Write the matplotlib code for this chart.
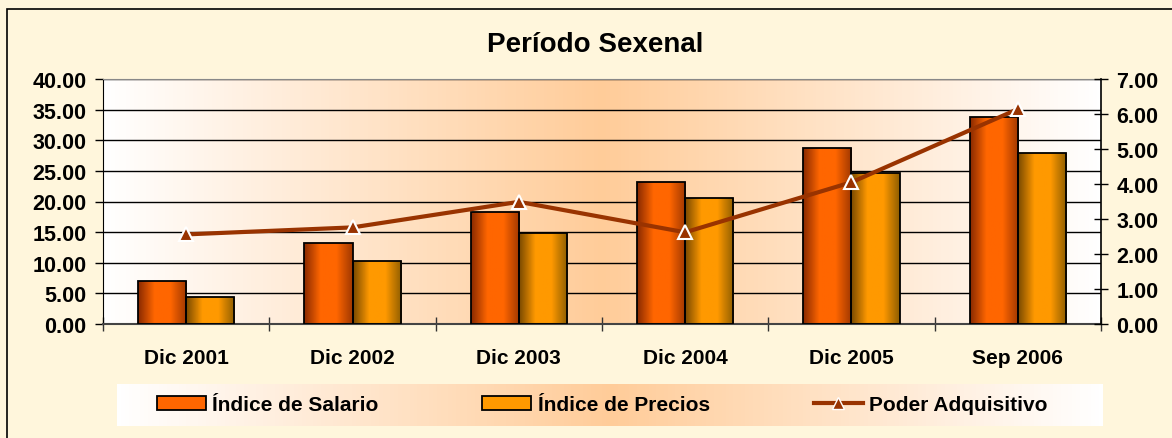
import numpy as np
import matplotlib.pyplot as plt
from matplotlib.colors import LinearSegmentedColormap
from matplotlib.patches import Rectangle
from matplotlib.lines import Line2D

# data
periodos = ["Dic 2001", "Dic 2002", "Dic 2003", "Dic 2004", "Dic 2005", "Sep 2006"]
indice_salario = [7.07, 13.28, 18.23, 23.18, 28.79, 33.74]
indice_precios = [4.46, 10.34, 14.80, 20.57, 24.70, 27.87]
poder_adquisitivo = [2.56, 2.76, 3.49, 2.62, 4.05, 6.14]

plt.rcParams['font.family'] = ['Liberation Sans', 'DejaVu Sans']
plt.rcParams['font.weight'] = 'bold'

fig = plt.figure(figsize=(11.72, 4.39), dpi=100)
fig.patch.set_facecolor('#FFF6DC')

# outer border of the chart
fig.add_artist(Rectangle((7 / 1172, -0.05), 1.2, 1 - 10 / 439 + 0.05,
                         transform=fig.transFigure, fill=False,
                         edgecolor='black', linewidth=1.2))

ax = fig.add_axes([103 / 1172, 1 - 325 / 439, (1101 - 103) / 1172, 245 / 439])
ax.patch.set_visible(False)

# plot area background: white -> peach -> white
bg_cmap = LinearSegmentedColormap.from_list('bg', ['#FFFFFF', '#FFCC99', '#FFFFFF'])
ax.imshow(np.linspace(0, 1, 256).reshape(1, -1), cmap=bg_cmap, aspect='auto',
          extent=[0, 1, 0, 1], transform=ax.transAxes, zorder=0)

x = np.arange(len(periodos))
w = 0.29
bars_s = ax.bar(x - w / 2, indice_salario, w, edgecolor='black', linewidth=1.3, zorder=3)
bars_p = ax.bar(x + w / 2, indice_precios, w, edgecolor='black', linewidth=1.3, zorder=3)

sal_cmap = LinearSegmentedColormap.from_list('sal', ['#8A2A00', '#FF6600', '#FF6600', '#A03800'])
pre_cmap = LinearSegmentedColormap.from_list('pre', ['#7A4A00', '#FF9900', '#FF9900', '#8F5E00'])


def gradient_fill(bars, cmap):
    for b in bars:
        bx, by = b.get_xy()
        im = ax.imshow(np.linspace(0, 1, 64).reshape(1, -1), cmap=cmap, aspect='auto',
                       extent=[bx, bx + b.get_width(), by, by + b.get_height()], zorder=2.5)
        im.set_clip_path(b)
        b.set_facecolor('none')


gradient_fill(bars_s, sal_cmap)
gradient_fill(bars_p, pre_cmap)

ax.set_xlim(-0.5, len(periodos) - 0.5)
ax.set_ylim(0, 40)
ax.set_yticks(np.arange(0, 41, 5))
ax.set_yticklabels([f"{v:.2f}" for v in np.arange(0, 41, 5)])
ax.yaxis.grid(True, color='black', linewidth=1.0, zorder=1)
ax.set_axisbelow(True)
ax.set_xticks(np.arange(-0.5, len(periodos), 1))
ax.set_xticklabels([])
ax.set_xticks(x, minor=True)
ax.set_xticklabels(periodos, minor=True)
ax.tick_params(axis='x', which='major', direction='inout', length=10, width=1, color='#333333')
ax.tick_params(axis='x', which='minor', length=0, pad=17, labelsize=15)
ax.tick_params(axis='y', direction='out', length=6, width=1, labelsize=15.5, pad=6)
ax.spines['top'].set_color('#888888')
ax.spines['right'].set_visible(False)
ax.spines['bottom'].set_color('#444444')
ax.spines['bottom'].set_linewidth(1.5)

ax2 = ax.twinx()
ax2.plot(x, poder_adquisitivo, color='#993300', linewidth=3, marker='^', markersize=10,
         markerfacecolor='#993300', markeredgecolor='white', markeredgewidth=1.5, zorder=5)
ax2.set_ylim(0, 7)
ax2.set_yticks(np.arange(0, 8, 1))
ax2.set_yticklabels([f"{v:.2f}" for v in np.arange(0, 8, 1)])
ax2.tick_params(axis='y', direction='inout', length=10, width=1, labelsize=15.5, pad=6)
for s in ['top', 'left', 'bottom']:
    ax2.spines[s].set_visible(False)
ax2.spines['right'].set_linewidth(1.2)

ax.set_title("Período Sexenal", fontsize=20, fontweight='bold', pad=20, x=0.493)

# legend band
lax = fig.add_axes([117 / 1172, 1 - 427 / 439, (1103 - 117) / 1172, 42 / 439])
lax.imshow(np.linspace(0, 1, 256).reshape(1, -1), cmap=bg_cmap, aspect='auto', extent=[0, 1, 0, 1])
lax.axis('off')

handles = [Rectangle((0, 0), 1, 1, facecolor='#FF6600', edgecolor='black', linewidth=1.3),
           Rectangle((0, 0), 1, 1, facecolor='#FF9900', edgecolor='black', linewidth=1.3),
           Line2D([], [], color='#993300', linewidth=3, marker='^', markersize=8,
                  markerfacecolor='#993300', markeredgecolor='white')]
labels = ["Índice de Salario", "Índice de Precios", "Poder Adquisitivo"]
lax.legend(handles, labels, loc='center', ncol=3, frameon=False, fontsize=15,
           columnspacing=5.0, handlelength=2.35, handleheight=0.65, handletextpad=0.3,
           bbox_to_anchor=(0.492, 0.5))

fig.savefig("out.png", dpi=100, facecolor=fig.get_facecolor())
